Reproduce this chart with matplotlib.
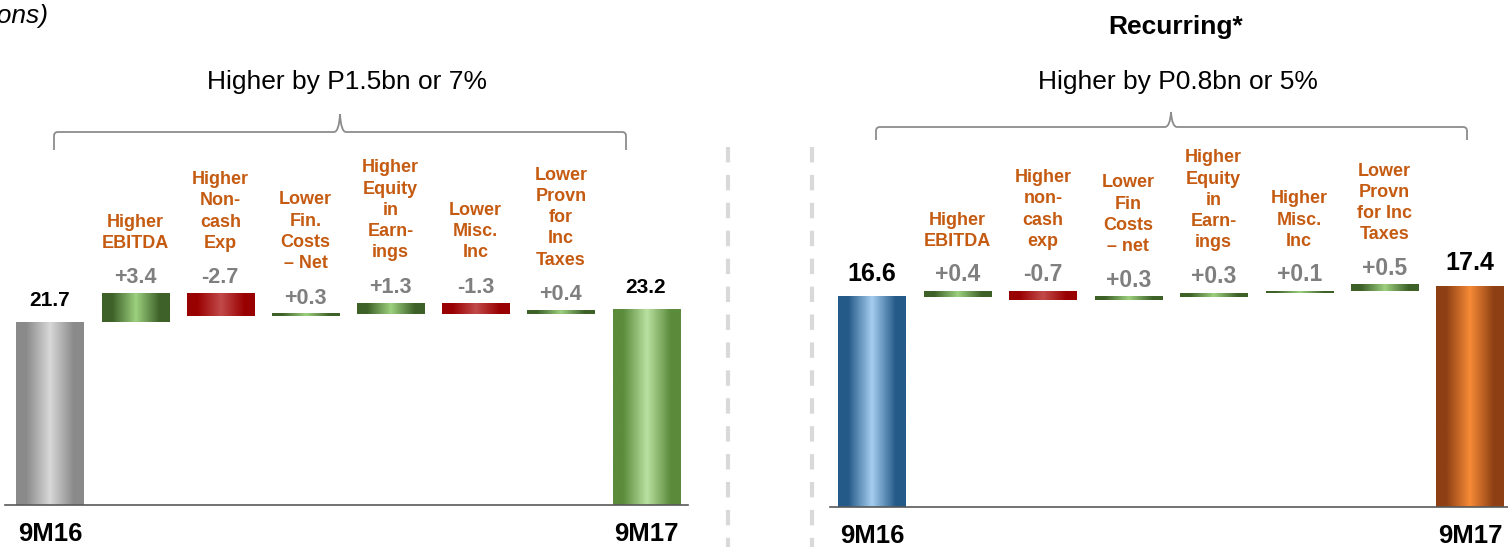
import numpy as np
import matplotlib
matplotlib.use("Agg")
import matplotlib.pyplot as plt
from matplotlib.colors import LinearSegmentedColormap
from matplotlib.path import Path
from matplotlib.patches import PathPatch
from matplotlib.lines import Line2D

plt.rcParams['font.family'] = ['Liberation Sans', 'DejaVu Sans']

# ---------------- data ----------------
period_labels = ["9M16", "9M17"]

left_start = 21.7
left_end = 23.2
left_deltas = [3.4, -2.7, 0.3, 1.3, -1.3, 0.4]
left_delta_labels = ["+3.4", "-2.7", "+0.3", "+1.3", "-1.3", "+0.4"]
left_categories = ["Higher\nEBITDA", "Higher\nNon-\ncash\nExp", "Lower\nFin.\nCosts\n\u2013 Net",
                   "Higher\nEquity\nin\nEarn-\nings", "Lower\nMisc.\nInc", "Lower\nProvn\nfor\nInc\nTaxes"]
left_title = "Higher by P1.5bn or 7%"

right_start = 16.6
right_end = 17.4
right_deltas = [0.4, -0.7, 0.3, 0.3, 0.1, 0.5]
right_delta_labels = ["+0.4", "-0.7", "+0.3", "+0.3", "+0.1", "+0.5"]
right_categories = ["Higher\nEBITDA", "Higher\nnon-\ncash\nexp", "Lower\nFin\nCosts\n\u2013 net",
                    "Higher\nEquity\nin\nEarn-\nings", "Higher\nMisc.\nInc", "Lower\nProvn\nfor Inc\nTaxes"]
right_title = "Higher by P0.8bn or 5%"
right_header = "Recurring*"
unit_note = "(in billions)"

# ---------------- styles ----------------
def cyl(edge, center):
    return LinearSegmentedColormap.from_list(
        "c", [(0, edge), (0.15, edge), (0.5, center), (0.85, edge), (1, edge)])

CM_GRAY = cyl("#8a8a8a", "#d8d8d8")
CM_GREEN_TOT = cyl("#5b8b3b", "#b9e1a1")
CM_BLUE = cyl("#245a88", "#a6cdf0")
CM_ORANGE = cyl("#8e4014", "#f78a37")
CM_POS = cyl("#3e6128", "#9dd07e")
CM_NEG = cyl("#990000", "#c24a4a")

ORANGE_TXT = "#c55a11"
GRAY_TXT = "#7f7f7f"

W, H = 1508, 547
fig = plt.figure(figsize=(W / 100, H / 100), dpi=100)


def grad(ax, patch, cmap):
    x0 = patch.get_x(); w = patch.get_width()
    y0 = patch.get_y(); h = patch.get_height()
    img = np.linspace(0, 1, 256)[None, :]
    ax.imshow(img, cmap=cmap, extent=[x0, x0 + w, y0, y0 + h], aspect='auto',
              interpolation='bilinear', zorder=2)


def waterfall(ax, start, end, deltas, dlabels, cats, start_cm, end_cm,
              xlim, ylim, tot_fs, val_fs):
    n = len(deltas)
    width = 0.787
    cum = start
    # start bar
    p = ax.bar(0, start, width=width, color='none', zorder=1)[0]
    grad(ax, p, start_cm)
    ax.annotate(f"{start:.1f}", (0, start), xytext=(0, 11.5), textcoords='offset points',
                ha='center', va='baseline', fontsize=tot_fs, fontweight='bold', color='black')
    for i, (d, lab, cat) in enumerate(zip(deltas, dlabels, cats)):
        x = i + 1
        p = ax.bar(x, d, bottom=cum, width=width, color='none', zorder=1)[0]
        grad(ax, p, CM_POS if d >= 0 else CM_NEG)
        top = max(cum, cum + d)
        ax.annotate(lab, (x, top), xytext=(0, 7.2), textcoords='offset points',
                    ha='center', va='baseline', fontsize=val_fs, fontweight='bold', color=GRAY_TXT)
        ax.annotate(cat, (x, top), xytext=(0, 30), textcoords='offset points',
                    ha='center', va='bottom', fontsize=13, fontweight='bold',
                    color=ORANGE_TXT, linespacing=1.32)
        cum += d
    p = ax.bar(n + 1, end, width=width, color='none', zorder=1)[0]
    grad(ax, p, end_cm)
    ax.annotate(f"{end:.1f}", (n + 1, end), xytext=(0, 11.5), textcoords='offset points',
                ha='center', va='baseline', fontsize=tot_fs, fontweight='bold', color='black')
    ax.set_xlim(*xlim)
    ax.set_ylim(*ylim)
    for s in ['top', 'left', 'right']:
        ax.spines[s].set_visible(False)
    ax.spines['bottom'].set_color('#595959')
    ax.spines['bottom'].set_linewidth(1.2)
    ax.spines['bottom'].set_zorder(3)
    ax.set_yticks([])
    ax.set_xticks([0, n + 1])
    ax.set_xticklabels(period_labels, fontsize=18.5, fontweight='bold')
    ax.tick_params(axis='x', length=0, pad=12)
    ax.patch.set_alpha(0)


# left panel
axL = fig.add_axes([5 / W, (H - 505) / H, (688 - 5) / W, (505 - 100) / H])
waterfall(axL, left_start, left_end, left_deltas, left_delta_labels, left_categories,
          CM_GRAY, CM_GREEN_TOT, (-0.5285, 7.493), (0, 405 / 8.43), 15, 15.5)

# right panel
axR = fig.add_axes([830 / W, (H - 507) / H, (W - 830) / W, (507 - 100) / H])
waterfall(axR, right_start, right_end, right_deltas, right_delta_labels, right_categories,
          CM_BLUE, CM_ORANGE, (-0.4916, 7.445), (0, 407 / 12.68), 18, 16.5)

# overlay (decorations)
ov = fig.add_axes([0, 0, 1, 1], zorder=-1)
ov.set_xlim(0, W)
ov.set_ylim(H, 0)
ov.axis('off')


def brace(x0, x1, xm, yh, ytop, yend):
    r = 4
    verts = [(x0, yend), (x0, yh + r), (x0, yh), (x0 + r, yh), (xm - 6, yh),
             (xm - 1, yh), (xm, ytop), (xm + 1, yh), (xm + 6, yh),
             (x1 - r, yh), (x1, yh), (x1, yh + r), (x1, yend)]
    codes = [Path.MOVETO, Path.LINETO, Path.CURVE3, Path.CURVE3, Path.LINETO,
             Path.CURVE3, Path.CURVE3, Path.CURVE3, Path.CURVE3,
             Path.LINETO, Path.CURVE3, Path.CURVE3, Path.LINETO]
    ov.add_patch(PathPatch(Path(verts, codes), fc='none', ec='#8c8c8c', lw=1.3))


brace(54, 626, 340, 132, 114, 150)
brace(876, 1467, 1171, 127, 112, 140)

for xv in (728, 812):
    ov.add_line(Line2D([xv, xv], [147, H + 5], color='#d9d9d9', lw=3,
                       ls=(0, (3.7, 3.0))))

ov.text(347, 82, left_title, ha='center', va='center', fontsize=19, color='black')
ov.text(1178, 82, right_title, ha='center', va='center', fontsize=19, color='black')
ov.text(1176, 27, right_header, ha='center', va='center', fontsize=19, fontweight='bold')
ov.text(48, 16, unit_note, ha='right', va='center', fontsize=19, style='italic')

fig.savefig("out.png", dpi=100)
